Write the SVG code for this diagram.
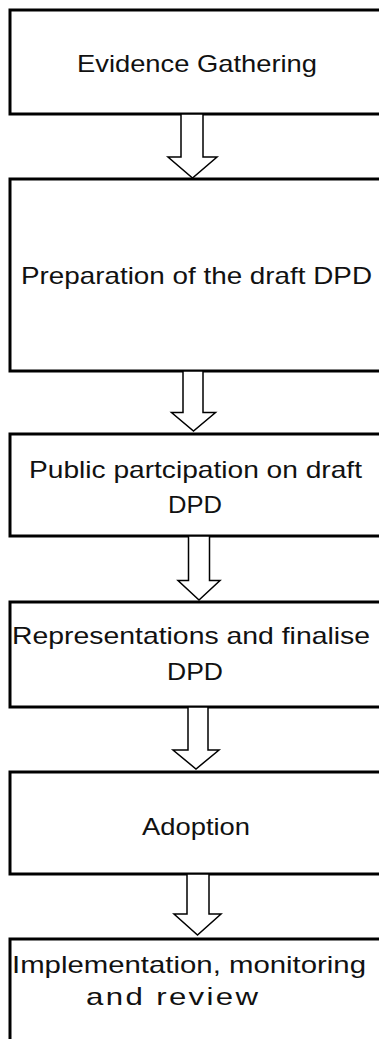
<svg xmlns="http://www.w3.org/2000/svg" width="379" height="1039" viewBox="0 0 379 1039">
<style>
.box{fill:#fff;stroke:#000;stroke-width:3}
.arr{fill:#fff;stroke:#000;stroke-width:1.5;stroke-linejoin:miter}
.t{font-family:"Liberation Sans",Arial,sans-serif;font-size:24px;fill:#111}
</style>
<rect x="0" y="0" width="379" height="1039" fill="#fff"/>
<g id="node-evidence">
<rect class="box" x="10" y="10" width="400" height="104"/>
<text class="t" x="77" y="72" textLength="240" lengthAdjust="spacingAndGlyphs">Evidence Gathering</text>
</g>
<g id="node-preparation">
<rect class="box" x="10" y="179" width="400" height="192"/>
<text class="t" x="21" y="284" textLength="351" lengthAdjust="spacingAndGlyphs">Preparation of the draft DPD</text>
</g>
<g id="node-public">
<rect class="box" x="10" y="434" width="400" height="102"/>
<text class="t" x="29" y="478" textLength="333" lengthAdjust="spacingAndGlyphs">Public partcipation on draft</text>
<text class="t" x="168" y="513" textLength="54" lengthAdjust="spacingAndGlyphs">DPD</text>
</g>
<g id="node-representations">
<rect class="box" x="10" y="602" width="400" height="105"/>
<text class="t" x="12" y="644" textLength="358" lengthAdjust="spacingAndGlyphs">Representations and finalise</text>
<text class="t" x="167" y="680" textLength="56" lengthAdjust="spacingAndGlyphs">DPD</text>
</g>
<g id="node-adoption">
<rect class="box" x="10" y="772" width="400" height="102"/>
<text class="t" x="142" y="835" textLength="108" lengthAdjust="spacingAndGlyphs">Adoption</text>
</g>
<g id="node-implementation">
<rect class="box" x="10" y="939" width="400" height="200"/>
<text class="t" x="12" y="973" textLength="354" lengthAdjust="spacingAndGlyphs">Implementation, monitoring</text>
<text class="t" transform="scale(1.3,1)" x="66.2" y="1005" textLength="132.3" lengthAdjust="spacing">and review</text>
</g>
<g id="connectors">
<polygon class="arr" points="181,114 203,114 203,157 217,157 192.5,178 168,157 181,157"/>
<polygon class="arr" points="183,371 203,371 203,412.5 215.5,412.5 193.5,431 171.5,412.5 183,412.5"/>
<polygon class="arr" points="188.5,536 209.5,536 209.5,580.5 220,580.5 199,600 178,580.5 188.5,580.5"/>
<polygon class="arr" points="188,707 208,707 208,750 219,750 196,769 173,750 188,750"/>
<polygon class="arr" points="187,874 209,874 209,914 221,914 197.5,935 174,914 187,914"/>
</g>
</svg>
